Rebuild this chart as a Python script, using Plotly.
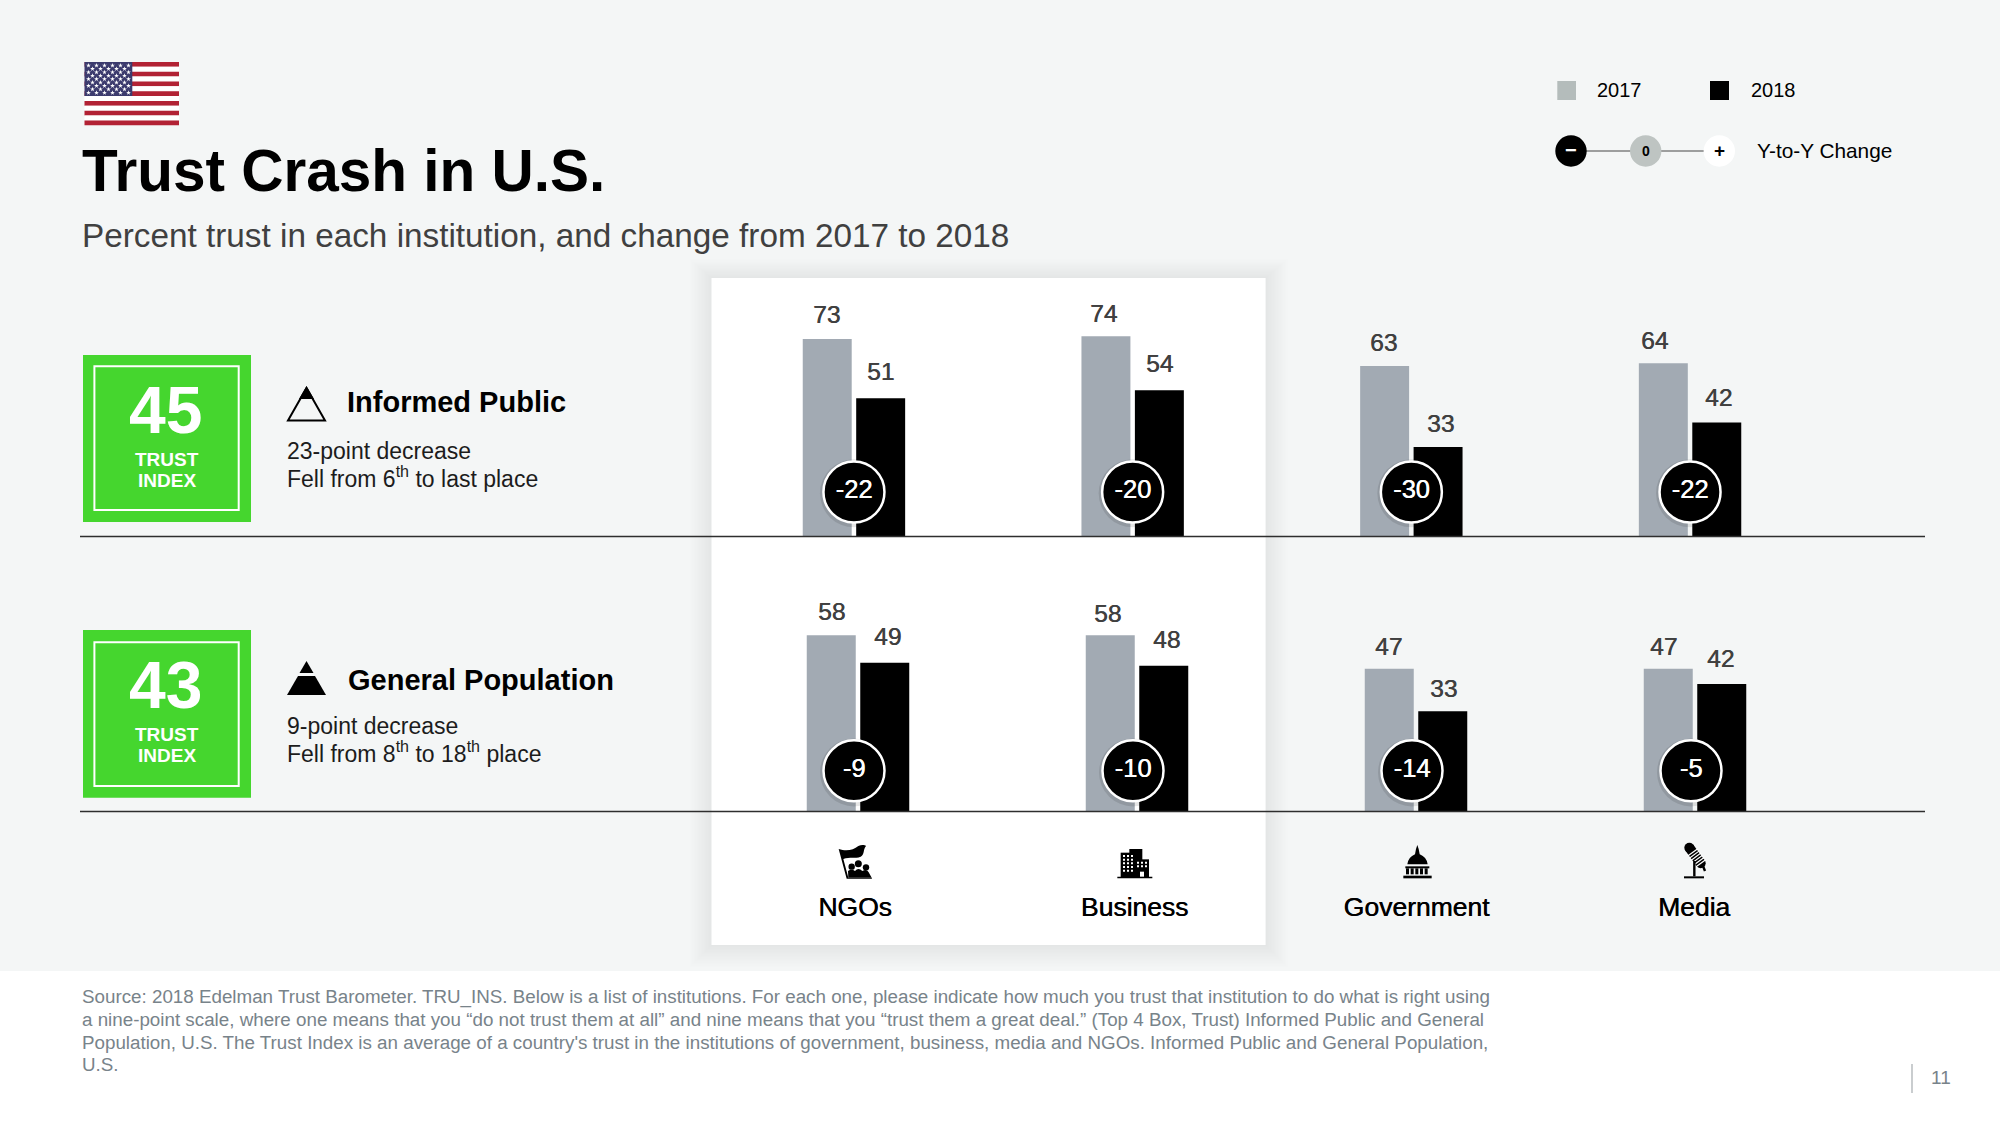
## Libraries

import numpy as np
import plotly.graph_objects as go

## Data

categories = ["NGOs", "Business", "Government", "Media"]

informed_2017 = [73, 74, 63, 64]
informed_2018 = [51, 54, 33, 42]
informed_change = [-22, -20, -30, -22]

general_2017 = [58, 58, 47, 47]
general_2018 = [49, 48, 33, 42]
general_change = [-9, -10, -14, -5]

source_lines = [
    "Source: 2018 Edelman Trust Barometer. TRU_INS. Below is a list of institutions. For each one, please indicate how much you trust that institution to do what is right using",
    "a nine-point scale, where one means that you “do not trust them at all” and nine means that you “trust them a great deal.” (Top 4 Box, Trust) Informed Public and General",
    "Population, U.S. The Trust Index is an average of a country's trust in the institutions of government, business, media and NGOs. Informed Public and General Population,",
    "U.S.",
]

## Styles

FONT = "Liberation Sans"
GREY_BAR = "#a2aab3"
GREEN = "#45d62e"
LABEL = "#404040"
BACK = "#f4f6f6"

shapes = []
annotations = []


def rect(x0, y0, x1, y1, fill, layer="below", line=None):
    shapes.append(dict(type="rect", xref="x", yref="y", x0=x0, y0=y0, x1=x1, y1=y1,
                       fillcolor=fill, layer=layer,
                       line=dict(width=0) if line is None else line))


def circle(cx, cy, r, fill, layer="below", line=None):
    shapes.append(dict(type="circle", xref="x", yref="y", x0=cx - r, y0=cy - r, x1=cx + r, y1=cy + r,
                       fillcolor=fill, layer=layer,
                       line=dict(width=0) if line is None else line))


def seg(x0, y0, x1, y1, color, width, layer="above"):
    shapes.append(dict(type="line", xref="x", yref="y", x0=x0, y0=y0, x1=x1, y1=y1,
                       layer=layer, line=dict(color=color, width=width)))


def path(d, fill="black", layer="below"):
    shapes.append(dict(type="path", xref="x", yref="y", path=d, fillcolor=fill,
                       layer=layer, line=dict(width=0)))


def txt(x, y, text, size, color="black", bold=False, anchor="left"):
    annotations.append(dict(xref="x", yref="y", x=x - 2 if anchor == "left" else x, y=y, text=text, showarrow=False,
                            xanchor=anchor, yanchor="middle", align=anchor,
                            font=dict(family=FONT, size=size, color=color,
                                      weight=700 if bold else 400)))


def icon(d, ox, oy):
    out = []
    for tok in d.split():
        if "," in tok:
            a, b = tok.split(",")
            out.append(f"{ox + float(a) / 3:.2f},{oy + float(b) / 3:.2f}")
        else:
            out.append(tok)
    return " ".join(out)


## Page background, panel and footer

for i in range(16, 0, -1):
    rect(711.5 - i * 1.4, 278 - i * 1.2, 1265.6 + i * 1.4, 945 + i * 1.4, "rgba(40,50,50,0.005)")
rect(711.5, 278, 1265.6, 945, "white")
rect(0, 971, 2000, 1125, "white")

## Flag

for i in range(13):
    top = 62 + i * 63.3 / 13
    rect(84.5, top, 179, top + 63.3 / 13, "#b22234" if i % 2 == 0 else "white")
rect(84.5, 62, 132.3, 96, "#3c3b6e")

star_x, star_y = [], []
for row in range(9):
    n = 6 if row % 2 == 0 else 5
    for col in range(n):
        star_x.append(88.5 + col * 8 + (0 if row % 2 == 0 else 4))
        star_y.append(65.5 + row * 3.4)

## Legend

rect(1557.3, 81, 1576, 100, "#b4bcbb")
rect(1710, 81, 1729, 100, "black")
txt(1597.3, 90, "2017", 20)
txt(1750.7, 90, "2018", 20)

seg(1571, 151, 1719, 151, "#808080", 1.5, layer="below")
circle(1571, 151, 15.7, "black")
circle(1645.7, 151, 15.7, "#bec4c2")
circle(1719.3, 151, 15.7, "white")
txt(1571, 150, "−", 20, "white", True, "center")
txt(1645.7, 150.5, "0", 14, "black", True, "center")
txt(1719.3, 150.5, "+", 19, "black", True, "center")
txt(1756.7, 150.5, "Y-to-Y Change", 20.8)

## Titles

txt(82, 170, "Trust Crash in U.S.", 58.5, "black", True)
txt(82, 235, "Percent trust in each institution, and change from 2017 to 2018", 33.3, LABEL)

## Left hand blocks

for top, bottom, in_top, in_bottom, score in [(355, 522, 366.3, 510, "45"), (630, 797.7, 642.3, 786, "43")]:
    rect(83, top, 251, bottom, GREEN)
    shapes.append(dict(type="rect", xref="x", yref="y", x0=94.4, y0=in_top, x1=238.7, y1=in_bottom,
                       layer="below", line=dict(color="white", width=2)))
    txt(165.5, top + 55, score, 66, "white", True, "center")
    txt(167, top + 104, "TRUST", 19, "white", True, "center")
    txt(167, top + 125, "INDEX", 19, "white", True, "center")

# open pyramid
path("M306.5,388 L325,420.5 L288,420.5 Z", "rgba(0,0,0,0)")
shapes[-1]["line"] = dict(color="black", width=2)
path("M306.5,386 L314,399 L299,399 Z")
# solid pyramid
path("M306.5,661 L313.5,673 L299.5,673 Z")
path("M298,676 L315,676 L326,695 L287,695 Z")

txt(347, 402, "Informed Public", 29, "black", True)
txt(348, 680, "General Population", 29, "black", True)
txt(287, 451, "23-point decrease", 23, "#1c1c1c")
txt(287, 477, "Fell from 6<sup>th</sup> to last place", 23, "#1c1c1c")
txt(287, 726, "9-point decrease", 23, "#1c1c1c")
txt(287, 752, "Fell from 8<sup>th</sup> to 18<sup>th</sup> place", 23, "#1c1c1c")

## Baselines

seg(80, 536.5, 1925, 536.5, "#2e2e2e", 1.5)
seg(80, 811.6, 1925, 811.6, "#2e2e2e", 1.5)

## Institution icons

# NGOs
ox, oy = 820, 835
path(icon("M 56,42 C 80,50 100,45 115,33 C 125,28 135,30 138,33 C 128,45 135,58 122,65 C 105,72 90,65 70,72 L 85,128 L 155,128 L 156,131 L 80,131 Z", ox, oy))
path(icon("M 85,128 L 84,108 Q 95,100 105,108 Q 115,96 127,108 Q 140,100 146,112 L 155,128 Z", ox, oy))
circle(ox + 95 / 3, oy + 95 / 3, 3.2, "black")
circle(ox + 115 / 3, oy + 86 / 3, 3.5, "black")
circle(ox + 138 / 3, oy + 97 / 3, 3.2, "black")

# Business
ox, oy = 1100, 835
rect(ox + 62 / 3, oy + 53 / 3, ox + 102 / 3, oy + 128 / 3, "black")
rect(ox + 88 / 3, oy + 42 / 3, ox + 127 / 3, oy + 128 / 3, "black")
rect(ox + 107 / 3, oy + 73 / 3, ox + 147 / 3, oy + 128 / 3, "black")
rect(ox + 52 / 3, oy + 125 / 3, ox + 157 / 3, oy + 130 / 3, "black")
for cx in [69, 81, 93]:
    for cy in [60, 71, 82, 93, 104]:
        rect(ox + cx / 3, oy + cy / 3, ox + (cx + 6) / 3, oy + (cy + 6) / 3, "white")
for cx in [111, 123, 135]:
    for cy in [80, 91]:
        rect(ox + cx / 3, oy + cy / 3, ox + (cx + 6) / 3, oy + (cy + 6) / 3, "white")
rect(ox + 120 / 3, oy + 110 / 3, ox + 132 / 3, oy + 125 / 3, "white")

# Government
ox, oy = 1380, 835
path(icon("M 82,88 Q 85,66 105,58 L 108,42 L 112,30 L 116,42 L 119,58 Q 140,66 143,88 Z", ox, oy))
rect(ox + 76 / 3, oy + 94 / 3, ox + 148 / 3, oy + 100 / 3, "black")
for cx in [78, 92, 106, 120, 134]:
    rect(ox + cx / 3, oy + 100 / 3, ox + (cx + 9) / 3, oy + 118 / 3, "black")
rect(ox + 70 / 3, oy + 122 / 3, ox + 155 / 3, oy + 130 / 3, "black")

# Media
ox, oy = 1660, 835
seg(ox + 88 / 3, oy + 38 / 3, ox + 122 / 3, oy + 85 / 3, "black", 10, layer="below")
circle(ox + 88 / 3, oy + 38 / 3, 5, "black")
circle(ox + 122 / 3, oy + 85 / 3, 5, "black")
for t in [0.3, 0.44, 0.58, 0.72, 0.86, 1.0]:
    mx, my = 88 + 34 * t, 38 + 47 * t
    seg(ox + (mx - 15) / 3, oy + (my + 11) / 3, ox + (mx + 15) / 3, oy + (my - 11) / 3, "white", 1.2, layer="below")
seg(ox + 103 / 3, oy + 78 / 3, ox + 103 / 3, oy + 124 / 3, "black", 2.4, layer="below")
seg(ox + 127 / 3, oy + 88 / 3, ox + 135 / 3, oy + 108 / 3, "black", 2.4, layer="below")
rect(ox + 72 / 3, oy + 124 / 3, ox + 132 / 3, oy + 130 / 3, "black")

## Footer

for line_text, y in zip(source_lines, [997, 1019.5, 1042, 1064.5]):
    txt(82.3, y, line_text, 18.8, "#78838a")

seg(1912, 1064, 1912, 1093, "#a6acaf", 1.2)
txt(1941, 1077, "11", 19, "#78838a", False, "center")

## Charts

x_index = np.arange(len(categories))

fig = go.Figure()

fig.add_trace(go.Scatter(x=star_x, y=star_y, mode="markers", xaxis="x", yaxis="y",
                         marker=dict(symbol="star", size=3.6, color="white"), hoverinfo="skip"))

# nudges in pixels: labels in the reference do not sit exactly over their bars
rows = [("x2", "y2", informed_2017, informed_2018, informed_change, 16.3, 0,
         [-1, -2.5, -1, -9], [-1, -2, -1.5, -2], [0, 0, 2.5, 1.5], [1.5, 1.5, -2, 0]),
        ("x3", "y3", general_2017, general_2018, general_change, 13.4, -4 / 279,
         [0, -3, -1, -5], [-1, -3, -2.5, -2.5], [2.5, 2.5, 1, -1], [1.5, 1.5, -2, 0])]

for xa, ya, old, new, change, bubble_y, bubble_dx, old_dx, old_dy, new_dx, new_dy in rows:
    fig.add_trace(go.Bar(x=x_index, y=old, xaxis=xa, yaxis=ya, marker=dict(color=GREY_BAR, line=dict(width=0)),
                         offsetgroup="a", hoverinfo="y"))
    fig.add_trace(go.Bar(x=x_index, y=new, xaxis=xa, yaxis=ya, marker=dict(color="black", line=dict(width=0)),
                         offsetgroup="b", hoverinfo="y"))
    # soft shadow below the change bubble
    fig.add_trace(go.Scatter(x=x_index + bubble_dx, y=[bubble_y - 0.5] * len(change), xaxis=xa, yaxis=ya, mode="markers",
                             marker=dict(size=68, color="rgba(0,0,0,0.10)"), hoverinfo="skip"))
    fig.add_trace(go.Scatter(x=x_index + bubble_dx, y=[bubble_y] * len(change), xaxis=xa, yaxis=ya, mode="markers+text",
                             text=[str(v) for v in change], textposition="middle center",
                             textfont=dict(family=FONT, size=25.5, color="white", shadow="0.5px 0 0 #ffffff"),
                             marker=dict(size=61, color="black", line=dict(color="white", width=2.5)),
                             hoverinfo="text"))
    for i in x_index:
        for values, side, dx, dy in ((old, -1, old_dx, old_dy), (new, 1, new_dx, new_dy)):
            annotations.append(dict(xref=xa, yref=ya, x=i, y=values[i], xshift=side * 26.75 + dx[i], yshift=25 + dy[i],
                                    text=str(values[i]), showarrow=False,
                                    xanchor="center", yanchor="middle",
                                    font=dict(family=FONT, size=24.5, color=LABEL, shadow="0.5px 0 0 #404040")))

tick_dx = np.array([-3, -2.5, 0.5, -1]) / 279

fig.update_layout(
    width=2000, height=1125, autosize=False,
    margin=dict(l=0, r=0, t=0, b=0),
    paper_bgcolor=BACK, plot_bgcolor="rgba(0,0,0,0)",
    showlegend=False, barmode="group", bargap=0.6165, bargroupgap=0.084,
    shapes=shapes, annotations=annotations,
    xaxis=dict(domain=[0, 1], range=[0, 2000], visible=False),
    yaxis=dict(domain=[0, 1], range=[1125, 0], visible=False),
    xaxis2=dict(domain=[714.6 / 2000, 1829.4 / 2000], range=[-0.5, 3.5], anchor="y2",
                showgrid=False, zeroline=False, showline=False, showticklabels=False, ticks=""),
    yaxis2=dict(domain=[1 - 536 / 1125, 1 - 280 / 1125], range=[0, 256 / 2.70], anchor="x2", visible=False),
    xaxis3=dict(domain=[718.5 / 2000, 1834.5 / 2000], range=[-0.5, 3.5], anchor="y3",
                tickmode="array", tickvals=x_index + tick_dx, ticktext=categories,
                ticklabelstandoff=77, ticks="",
                tickfont=dict(family=FONT, size=26.5, color="black", shadow="0.5px 0 0 #000000"),
                showgrid=False, zeroline=False, showline=False),
    yaxis3=dict(domain=[1 - 811.6 / 1125, 1 - 560 / 1125], range=[0, 251.6 / 3.04], anchor="x3", visible=False),
)

# the default page leaves an 8px body margin around the figure
fig.write_html("out.html", config={"displayModeBar": False}, post_script="document.body.style.margin = '0';")
